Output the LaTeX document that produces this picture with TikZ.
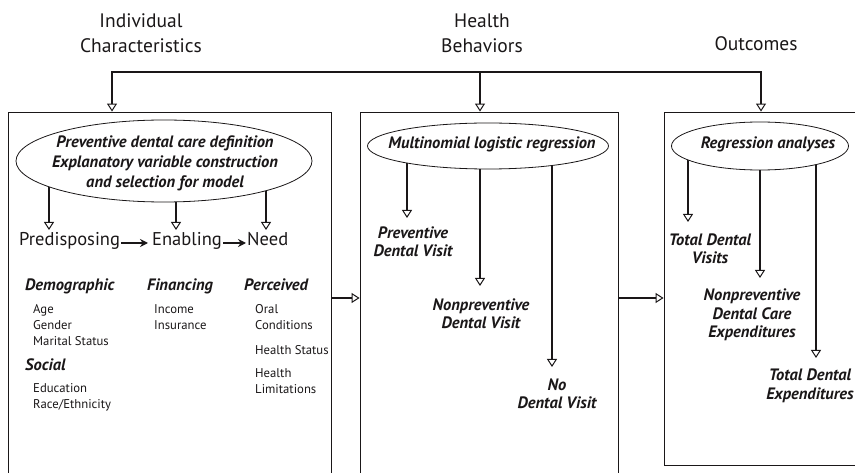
\documentclass[tikz,border=0pt]{standalone}
\usepackage{fontspec}
\setmainfont{PT Sans}
\usetikzlibrary{arrows.meta,shapes.geometric,backgrounds}
\definecolor{ink}{HTML}{1A1718}
\begin{document}
\begin{tikzpicture}[x=1pt,y=-1pt,
  every node/.style={text=ink, inner sep=0pt},
  title/.style={font=\fontsize{19.5}{25}\selectfont, align=center},
  hd/.style={font=\fontsize{16.5}{18}\selectfont\bfseries\itshape, anchor=west, text height=0.75em, text depth=0.2em},
  item/.style={font=\fontsize{12.7}{16}\selectfont, anchor=west, text height=0.75em, text depth=0.2em},
  big/.style={font=\fontsize{18.5}{24}\selectfont, anchor=west, text height=0.75em, text depth=0.2em},
  res/.style={font=\fontsize{16.5}{18.5}\selectfont\bfseries\itshape, align=center},
  ovtext/.style={font=\fontsize{16.5}{20}\selectfont\bfseries\itshape, align=center},
  oval/.style={draw=ink, ellipse, fill=white, line width=0.8pt, inner sep=0pt},
  box/.style={draw=ink, line width=0.9pt, rectangle},
  arr/.style={draw=ink, line width=1.6pt, -{Triangle[open, width=10pt, length=8pt, line width=1pt]}},
  arr2/.style={draw=ink, line width=1.8pt, line join=miter, {Triangle[open, width=10pt, length=8pt, line width=1pt]}-{Triangle[open, width=10pt, length=8pt, line width=1pt]}},
  harr/.style={draw=ink, line width=1.6pt, -{Stealth[length=8pt, width=8pt]}},
]
\useasboundingbox (0,0) rectangle (855,473);

% titles
\node[title] (t1) at (141,33) {Individual\\Characteristics};
\node[title] (t2) at (482,33) {Health\\Behaviors};
\node[title] (t3) at (756,44) {Outcomes};

% boxes
\node[box, minimum width=323pt, minimum height=372pt] (b1) at (169.5,298) {};
\node[box, minimum width=258pt, minimum height=372pt] (b2) at (489,298) {};
\node[box, minimum width=220pt, minimum height=353pt] (b3) at (774,288.5) {};

% top distribution line
\coordinate (j1) at (112,72);
\coordinate (j2) at (480,72);
\coordinate (j3) at (761,72);
\draw[arr2] (j1 |- b1.north) -- (j1) -- (j3) -- (j3 |- b3.north);
\draw[arr] (j2) -- (j2 |- b2.north);

% between boxes
\draw[arr] (b1.east) -- (b2.west);
\draw[arr] (b2.east) -- (b2.east -| b3.west);

% ellipses
\node[oval, minimum width=296pt, minimum height=82pt] (e1) at (164,161) {};
\node[ovtext] (e1t) at (165,163)
  {Preventive dental care definition\\Explanatory variable construction\\and selection for model};
\node[oval, minimum width=241pt, minimum height=46pt] (e2) at (488,146) {};
\node[ovtext] (e2t) at (492,144) {Multinomial logistic regression};
\node[oval, minimum width=177pt, minimum height=48pt] (e3) at (760,146) {};
\node[ovtext] (e3t) at (768,144) {Regression analyses};

% arrow tips
\coordinate (a11) at (49,230);
\coordinate (a12) at (176,230);
\coordinate (a13) at (266,230);
\coordinate (a21) at (407,218);
\coordinate (a22) at (480,286);
\coordinate (a23) at (552,367);
\coordinate (a31) at (688,222);
\coordinate (a32) at (760,278);
\coordinate (a33) at (816,358);

\begin{scope}[on background layer]
  \foreach \c in {a11,a12,a13} \draw[arr] (e1.center -| \c) -- (\c);
  \foreach \c in {a21,a22,a23} \draw[arr] (e2.center -| \c) -- (\c);
  \foreach \c in {a31,a32,a33} \draw[arr] (e3.center -| \c) -- (\c);
\end{scope}

% Andersen row
\node[big] (pred) at (19,243) {Predisposing};
\node[big] (enab) at (152,243) {Enabling};
\node[big] (need) at (247,243) {Need};
\draw[harr] (pred.east) ++(1,0) coordinate (p1) (p1) -- ([xshift=-4pt]enab.west);
\draw[harr] (enab.east) ++(1,0) coordinate (p2) (p2) -- ([xshift=-1pt]need.west);

% headings
\node[hd] (demo) at (25,288) {Demographic};
\node[hd] (fin) at (147,288) {Financing};
\node[hd] (perc) at (244,288) {Perceived};
\node[hd] (soc) at (25,368) {Social};

% items
\node[item] (i1) at (33,311) {Age};
\node[item] (i2) at (33,327) {Gender};
\node[item] (i3) at (33,343) {Marital Status};
\node[item] (i4) at (33,390) {Education};
\node[item] (i5) at (33,406) {Race/Ethnicity};
\node[item] (i6) at (154,311) {Income};
\node[item] (i7) at (154,327) {Insurance};
\node[item] (i8) at (255,311) {Oral};
\node[item] (i9) at (255,327) {Conditions};
\node[item] (i10) at (255,352) {Health Status};
\node[item] (i11) at (255,375) {Health};
\node[item] (i12) at (255,391) {Limitations};

% results
\node[res] (r1) at (413,242) {Preventive\\Dental Visit};
\node[res] (r2) at (481,314) {Nonpreventive\\Dental Visit};
\node[res] (r3) at (557,394) {No\\Dental Visit};
\node[res] (r4) at (710,249) {Total Dental\\Visits};
\node[res] (r5) at (752,315) {Nonpreventive\\Dental Care\\Expenditures};
\node[res] (r6) at (810,386) {Total Dental\\Expenditures};
\end{tikzpicture}
\end{document}
